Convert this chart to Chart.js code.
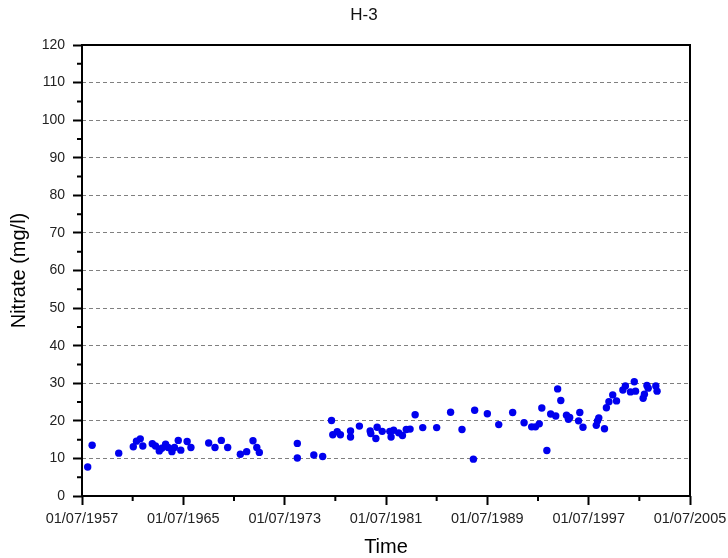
<!DOCTYPE html>
<html>
<head>
<meta charset="utf-8">
<title>H-3</title>
<script src="https://cdn.jsdelivr.net/npm/chart.js@4/dist/chart.umd.min.js"></script>
<style>
  html, body { margin: 0; padding: 0; background: #fff; }
  canvas { display: block; }
</style>
</head>
<body>
<canvas id="nitrateChart" width="728" height="558"></canvas>
<script>
// sampling dates as decimal years, nitrate in mg/l
const sampleYears = [
  1957.95, 1958.3, 1960.4, 1961.55, 1961.8, 1962.1, 1962.3, 1963.05, 1963.3, 1963.6,
  1963.8, 1964.1, 1964.3, 1964.6, 1964.8, 1965.1, 1965.3, 1965.8, 1966.1, 1967.5,
  1968.0, 1968.5, 1969.0, 1970.0, 1970.5, 1971.0, 1971.3, 1971.5, 1974.5, 1974.5,
  1975.8, 1976.5, 1977.2, 1977.3, 1977.65, 1977.9, 1978.7, 1978.7, 1979.4, 1980.25,
  1980.3, 1980.7, 1980.8, 1981.2, 1981.8, 1981.9, 1982.1, 1982.5, 1982.8, 1983.1,
  1983.4, 1983.8, 1984.4, 1985.5, 1986.6, 1987.5, 1988.4, 1988.5, 1989.5, 1990.4,
  1991.5, 1992.4, 1993.0, 1993.3, 1993.6, 1993.8, 1994.2, 1994.5, 1994.9, 1995.05,
  1995.3, 1995.75, 1995.9, 1996.0, 1996.7, 1996.8, 1997.05, 1998.1, 1998.2, 1998.3,
  1998.75, 1998.9, 1999.1, 1999.4, 1999.7, 2000.2, 2000.4, 2000.8, 2001.1, 2001.2,
  2001.8, 2001.9, 2002.1, 2002.2, 2002.8, 2002.9
];
const nitrate = [
  7.7, 13.5, 11.4, 13.1, 14.6, 15.2, 13.3, 13.9, 13.3, 12.0,
  12.7, 13.8, 12.9, 11.8, 12.9, 14.8, 12.2, 14.5, 12.9, 14.1,
  12.9, 14.8, 12.9, 11.1, 11.8, 14.7, 12.9, 11.6, 14.0, 10.1,
  10.9, 10.5, 20.1, 16.3, 17.1, 16.3, 17.3, 15.7, 18.6, 17.3,
  16.6, 15.3, 18.3, 17.2, 17.2, 15.7, 17.5, 16.8, 16.1, 17.7,
  17.8, 21.6, 18.2, 18.2, 22.3, 17.7, 9.8, 22.8, 21.9, 19.0,
  22.2, 19.5, 18.4, 18.4, 19.2, 23.4, 12.1, 21.8, 21.3, 28.5,
  25.4, 21.5, 20.4, 20.9, 20.0, 22.2, 18.3, 18.8, 20.0, 20.8,
  17.9, 23.5, 25.1, 26.9, 25.3, 28.2, 29.3, 27.7, 30.4, 27.9,
  26.0, 27.1, 29.4, 28.7, 29.3, 27.9
];

// axis ranges: 1 July 1957 to 1 July 2005, 0-120 mg/l
const xMin = 1957.5, xMax = 2005.5, xStep = 8;
const yMin = 0, yMax = 120, yStep = 10;

const points = sampleYears.map((yr, i) => ({ x: yr, y: nitrate[i] }));
const labelFont = 'Liberation Sans, Arial, sans-serif';

// frame around the plot plus half-step minor ticks
const frameAndMinorTicks = {
  id: 'frameAndMinorTicks',
  beforeDatasetsDraw(chart) {
    const { ctx, chartArea: a, scales: { x, y } } = chart;
    ctx.save();
    ctx.strokeStyle = '#000';
    ctx.lineWidth = 2;
    ctx.strokeRect(a.left, a.top, a.right - a.left, a.bottom - a.top);
    ctx.beginPath();
    for (let v = xMin + xStep / 2; v < xMax; v += xStep) {
      const px = x.getPixelForValue(v);
      ctx.moveTo(px, a.bottom);
      ctx.lineTo(px, a.bottom + 5);
    }
    for (let v = yMin + yStep / 2; v < yMax; v += yStep) {
      const py = y.getPixelForValue(v);
      ctx.moveTo(a.left, py);
      ctx.lineTo(a.left - 5, py);
    }
    ctx.stroke();
    ctx.restore();
  }
};

new Chart(document.getElementById('nitrateChart'), {
  type: 'scatter',
  data: {
    datasets: [{
      label: 'Nitrate',
      data: points,
      backgroundColor: '#0000ee',
      borderWidth: 0,
      pointRadius: 3.7,
      pointHoverRadius: 3.7
    }]
  },
  options: {
    responsive: false,
    animation: false,
    layout: { padding: 0 },
    plugins: {
      legend: { display: false },
      tooltip: { enabled: false },
      title: {
        display: true,
        text: 'H-3',
        color: '#111',
        font: { family: labelFont, size: 17, weight: 'normal' },
        padding: { top: 5, bottom: 19.6 }
      }
    },
    scales: {
      x: {
        type: 'linear',
        min: xMin,
        max: xMax,
        afterFit(scale) {
          scale.height = 62;
          // end labels may hang past the frame; the side axes hold the margins
          scale.paddingLeft = 0;
          scale.paddingRight = 0;
        },
        ticks: {
          stepSize: xStep,
          autoSkip: false,
          maxRotation: 0,
          padding: 5,
          color: '#222',
          font: { family: labelFont, size: 14.5 },
          callback: v => '01/07/' + Math.floor(v)
        },
        grid: {
          drawOnChartArea: false,
          tickLength: 9,
          tickWidth: 2,
          tickColor: '#000'
        },
        border: { display: false },
        title: {
          display: true,
          text: 'Time',
          color: '#000',
          font: { family: labelFont, size: 20 },
          padding: { top: 0, bottom: -1 }
        }
      },
      y: {
        min: yMin,
        max: yMax,
        afterFit(scale) { scale.width = 82; },
        ticks: {
          stepSize: yStep,
          padding: 8,
          color: '#222',
          font: { family: labelFont, size: 14 }
        },
        grid: {
          color: ctx => (ctx.tick && (ctx.tick.value === yMin || ctx.tick.value === yMax)) ? 'rgba(0,0,0,0)' : '#808080',
          lineWidth: 1,
          tickLength: 9,
          tickWidth: 2,
          tickColor: '#000'
        },
        border: { display: false, dash: [4, 3] },
        title: {
          display: true,
          text: 'Nitrate (mg/l)',
          color: '#000',
          font: { family: labelFont, size: 20 },
          padding: { top: 7, bottom: 0 }
        }
      },
      // empty right-hand axis that only keeps the margin beside the plot
      yRight: {
        position: 'right',
        min: yMin,
        max: yMax,
        afterFit(scale) { scale.width = 38; },
        ticks: { display: false },
        grid: { display: false },
        border: { display: false }
      }
    }
  },
  plugins: [frameAndMinorTicks]
});
</script>
</body>
</html>
